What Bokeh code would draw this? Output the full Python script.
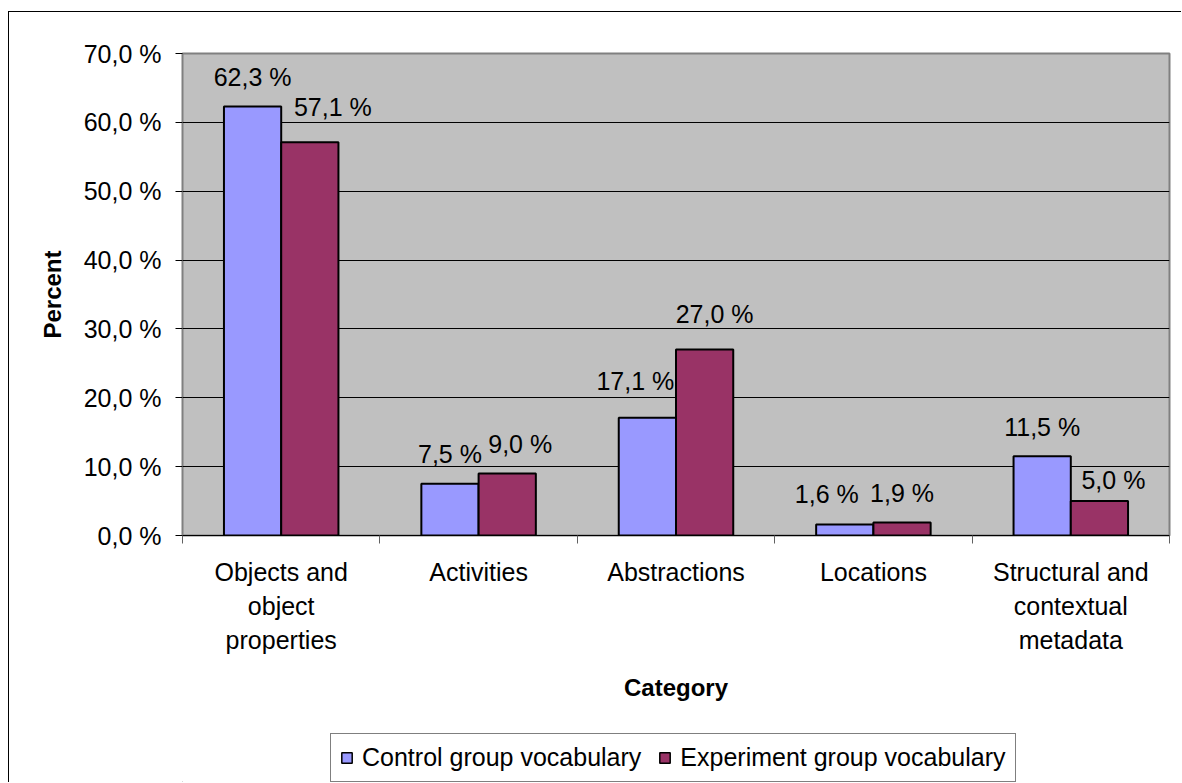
from bokeh.plotting import figure
from bokeh.layouts import column
from bokeh.models import Range1d, FixedTicker, Legend, LegendItem, ColumnDataSource
from bokeh.embed import file_html
from bokeh.resources import INLINE

# Share of tags per vocabulary category
categories = ["Objects and\nobject\nproperties", "Activities", "Abstractions",
              "Locations", "Structural and\ncontextual\nmetadata"]
control = [62.3, 7.5, 17.1, 1.6, 11.5]
experiment = [57.1, 9.0, 27.0, 1.9, 5.0]
y_ticks = [0, 10, 20, 30, 40, 50, 60, 70]
series_names = ["Control group vocabulary", "Experiment group vocabulary"]

FONT = "Liberation Sans"
FS = "25px"
TITLE_FS = "24px"
CONTROL_COLOR = "#9999FF"
EXPERIMENT_COLOR = "#993366"
BAR_W = 0.29
BAR_STYLE = dict(line_color="black", line_width=2)

# small pixel nudges for value labels that would otherwise collide (dx, dy up)
control_nudge = [(0, 0), (0, 0), (-12, 7), (-18, 1), (0, 0)]
experiment_nudge = [(23, 6), (13, 0), (10, 6), (0, 0), (14, -8)]


def fmt(v):
    return f"{v:.1f}".replace(".", ",") + " %"


n = len(categories)
centers = [i + 0.5 for i in range(n)]

p = figure(width=1173, height=712,
           x_range=Range1d(0, n), y_range=Range1d(0, 70),
           output_backend="svg", toolbar_location=None,
           min_border_left=173, min_border_right=13,
           min_border_top=41, min_border_bottom=189)
p.margin = (11, 0, 0, 8)
p.styles = {"border-left": "1px solid black", "border-top": "1px solid black"}

p.background_fill_color = "#C0C0C0"
p.border_fill_color = "white"
p.outline_line_color = "#808080"
p.outline_line_width = 2

# grid
p.xgrid.grid_line_color = None
p.ygrid.grid_line_color = "black"
p.ygrid.grid_line_width = 1
p.ygrid.ticker = FixedTicker(ticks=y_ticks)

# y axis
p.yaxis.ticker = FixedTicker(ticks=y_ticks)
p.yaxis.major_label_overrides = {t: fmt(t) for t in y_ticks}
p.yaxis.major_tick_out = 7
p.yaxis.major_tick_in = 0
p.yaxis.minor_tick_line_color = None
p.yaxis.major_tick_line_color = "black"
p.yaxis.axis_line_color = "#808080"
p.yaxis.major_label_standoff = 14
p.yaxis.major_label_text_font = FONT
p.yaxis.major_label_text_font_size = FS
p.yaxis.major_label_text_color = "black"
p.yaxis.axis_label = "Percent"
p.yaxis.axis_label_text_font = FONT
p.yaxis.axis_label_text_font_size = TITLE_FS
p.yaxis.axis_label_text_font_style = "bold"
p.yaxis.axis_label_text_color = "black"
p.yaxis.axis_label_standoff = 15

# x axis: labels at category centres, tick marks between categories
p.xaxis.ticker = FixedTicker(ticks=centers, minor_ticks=list(range(n + 1)))
p.xaxis.major_label_overrides = {c: lab for c, lab in zip(centers, categories)}
p.xaxis.major_tick_out = 0
p.xaxis.major_tick_in = 0
p.xaxis.minor_tick_out = 8
p.xaxis.minor_tick_in = 0
p.xaxis.minor_tick_line_color = "#606060"
p.xaxis.axis_line_color = "black"
p.xaxis.major_label_standoff = 14
p.xaxis.major_label_text_font = FONT
p.xaxis.major_label_text_font_size = FS
p.xaxis.major_label_text_color = "black"
p.xaxis.major_label_text_line_height = 1.22
p.xaxis.axis_label = "Category"
p.xaxis.axis_label_text_font = FONT
p.xaxis.axis_label_text_font_size = TITLE_FS
p.xaxis.axis_label_text_font_style = "bold"
p.xaxis.axis_label_text_color = "black"
p.xaxis.axis_label_standoff = 17

# bars
ctrl_x = [c - BAR_W / 2 for c in centers]
exp_x = [c + BAR_W / 2 for c in centers]
src_c = ColumnDataSource(dict(x=ctrl_x, top=control))
src_e = ColumnDataSource(dict(x=exp_x, top=experiment))
p.vbar(x="x", top="top", width=BAR_W, bottom=0, source=src_c,
       fill_color=CONTROL_COLOR, **BAR_STYLE)
p.vbar(x="x", top="top", width=BAR_W, bottom=0, source=src_e,
       fill_color=EXPERIMENT_COLOR, **BAR_STYLE)

# value labels
BASE_GAP = 29.5
for xs, vals, nudge in ((ctrl_x, control, control_nudge), (exp_x, experiment, experiment_nudge)):
    lab = ColumnDataSource(dict(
        x=xs, y=vals, text=[fmt(v) for v in vals],
        dx=[d[0] for d in nudge], dy=[-(BASE_GAP + d[1]) for d in nudge]))
    p.text(x="x", y="y", text="text", x_offset="dx", y_offset="dy", source=lab,
           text_align="center", text_baseline="alphabetic",
           text_font={"value": FONT}, text_font_size={"value": FS}, text_color="black")

# legend strip under the chart (its frame is aligned with the chart's frame)
lg = figure(width=1173, height=59, x_range=(0, 1), y_range=(0, 1),
            output_backend="svg", toolbar_location=None,
            x_axis_location=None, y_axis_location=None,
            min_border=0)
lg.margin = (0, 0, 0, 8)
lg.styles = {"border-left": "1px solid black"}
lg.outline_line_color = None
lg.xgrid.visible = False
lg.ygrid.visible = False
lg.background_fill_color = "white"
lg.border_fill_color = "white"
# key swatches: one off-range bar each, used only by the legend
k_c = lg.vbar(x=[-5], top=[-5], bottom=[-6], width=0.1,
              fill_color=CONTROL_COLOR, line_color="black", line_width=1.5)
k_e = lg.vbar(x=[-5], top=[-5], bottom=[-6], width=0.1,
              fill_color=EXPERIMENT_COLOR, line_color="black", line_width=1.5)

legend = Legend(items=[LegendItem(label=series_names[0], renderers=[k_c]),
                       LegendItem(label=series_names[1], renderers=[k_e])],
                orientation="horizontal", location=(148, 0))
legend.label_text_font = FONT
legend.label_text_font_size = FS
legend.label_text_color = "black"
legend.glyph_width = 13
legend.glyph_height = 13
legend.label_standoff = 9
legend.spacing = 17
legend.padding = 9
legend.margin = 0
legend.border_line_color = "black"
legend.border_line_width = 1
legend.background_fill_color = "white"
legend.background_fill_alpha = 1
lg.add_layout(legend, "center")

layout = column(p, lg, spacing=0)
open("out.html", "w").write(file_html(layout, INLINE))
